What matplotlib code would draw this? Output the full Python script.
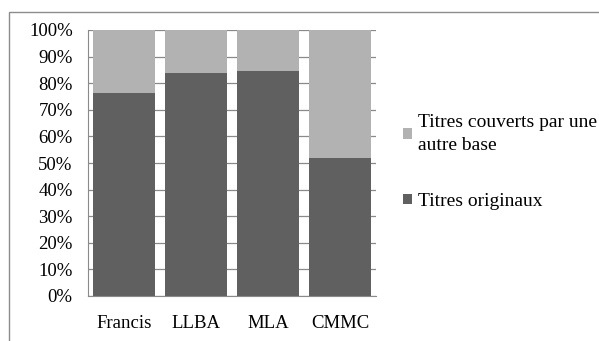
import numpy as np
import matplotlib
matplotlib.use("Agg")
from matplotlib import pyplot as plt
from matplotlib.patches import Rectangle

# data
categories = ["Francis", "LLBA", "MLA", "CMMC"]
originaux = [76.5, 84.0, 84.5, 52.0]
couverts = [100 - v for v in originaux]
yticks = np.arange(0, 101, 10)

plt.rcParams['font.serif'] = ['Liberation Serif', 'DejaVu Serif']
plt.rcParams['font.family'] = 'serif'

fig = plt.figure(figsize=(5.99, 3.41), dpi=100)
fig.patch.set_facecolor("white")
# outer chart frame (right/bottom edges fall outside the picture)
fig.patches.append(Rectangle((9 / 599, -0.1), 1.2, 1 - 12 / 341 + 0.1,
                             transform=fig.transFigure, fill=False,
                             edgecolor="#8c8c8c", lw=1.0))

ax = fig.add_axes([88 / 599, 1 - 296 / 341, 288 / 599, 266 / 341])
x = np.arange(len(categories))
b1 = ax.bar(x, originaux, width=0.87, color="#606060", zorder=2,
            label="Titres originaux")
b2 = ax.bar(x, couverts, bottom=originaux, width=0.87, color="#b2b2b2",
            zorder=2, label="Titres couverts par une\nautre base")

ax.set_xlim(-0.5, len(categories) - 0.5)
ax.set_ylim(0, 100)
ax.set_yticks(yticks)
ax.set_yticklabels(["%d%%" % t for t in yticks], fontsize=13.5)
ax.set_xticks(x)
ax.set_xticklabels(categories, fontsize=13.5)
ax.tick_params(axis="y", length=0, pad=11)
ax.tick_params(axis="x", length=0, pad=14)
ax.yaxis.grid(True, color="#8a8a8a", lw=0.9, zorder=0)
for s in ["top", "right"]:
    ax.spines[s].set_visible(False)
for s in ["left", "bottom"]:
    ax.spines[s].set_color("#8a8a8a")

leg = fig.legend(handles=[b2, b1], loc="upper left",
                 bbox_to_anchor=(403 / 599, 1 - 114 / 341), frameon=False,
                 fontsize=14, handlelength=0.45, handleheight=0.45,
                 handletextpad=0.3, labelspacing=2.0, borderpad=0,
                 borderaxespad=0)
for t in leg.get_texts():
    t.set_linespacing(1.45)

fig.savefig("out.png", dpi=100)
